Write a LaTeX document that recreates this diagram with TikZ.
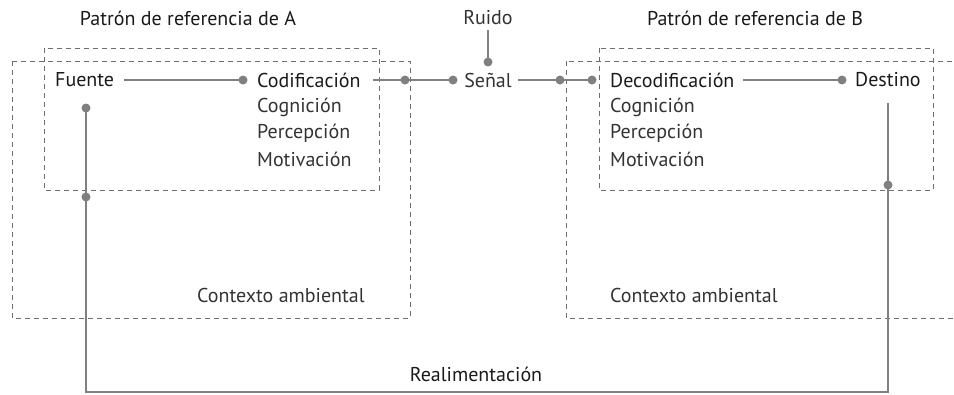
\documentclass[tikz,border=0pt]{standalone}
\usepackage{fontspec}
\setmainfont{PT Sans}
\definecolor{ln}{HTML}{808080}
\definecolor{bx}{HTML}{6E6E6E}
\definecolor{tx}{HTML}{1A1A1A}
\definecolor{tx2}{HTML}{333333}
\begin{document}
\begin{tikzpicture}[x=1pt,y=-1pt,
  lbl/.style={inner sep=0pt,text=tx,font=\fontsize{20}{22}\selectfont},
  sub/.style={inner sep=0pt,text=tx2,font=\fontsize{20}{22}\selectfont},
  conn/.style={draw=ln,line width=2pt},
  dot/.style={circle,fill=ln,inner sep=0pt,minimum size=9pt},
  dbox/.style={draw=bx,line width=0.9pt,dash pattern=on 5pt off 4pt}]
\useasboundingbox (0,0) rectangle (954,394);
% boxes
\draw[dbox] (12,61) rectangle (410,318);
\draw[dbox] (44,48) rectangle (379,190);
\draw[dbox] (566,61) rectangle (970,318);
\draw[dbox] (599,48) rectangle (933,190);
% texts
\node[lbl] (titA) at (188,18) {Patrón de referencia de A};
\node[lbl] (titB) at (755,18) {Patrón de referencia de B};
\node[sub] (ruido) at (488,18) {Ruido};
\node[lbl,anchor=west] (fuente) at (55,80) {Fuente};
\node[lbl,anchor=west] (codif) at (257,80) {Codificación};
\node[sub] (senal) at (488,80) {Señal};
\node[lbl,anchor=west] (decod) at (610,80) {Decodificación};
\node[lbl,anchor=west] (destino) at (855,80) {Destino};
\node[sub,anchor=west] (cogA) at (257,107) {Cognición};
\node[sub,anchor=west] (perA) at (257,133) {Percepción};
\node[sub,anchor=west] (motA) at (257,159) {Motivación};
\node[sub,anchor=west] (cogB) at (610,107) {Cognición};
\node[sub,anchor=west] (perB) at (610,133) {Percepción};
\node[sub,anchor=west] (motB) at (610,159) {Motivación};
\node[sub,anchor=west] (ctxA) at (197,295) {Contexto ambiental};
\node[sub,anchor=west] (ctxB) at (610,295) {Contexto ambiental};
\node[lbl] (realim) at (476,374) {Realimentación};
% coordinates
\coordinate (d1) at (243,80);
\coordinate (s1) at (373,80);
\coordinate (d2) at (405,80);
\coordinate (d3) at (453,80);
\coordinate (s2) at (518,80);
\coordinate (d4) at (560,80);
\coordinate (d5) at (592,80);
\coordinate (s3) at (743,80);
\coordinate (d6) at (842,80);
\coordinate (r0) at (488,30);
\coordinate (d7) at (488,62);
\coordinate (f1) at (86,108);
\coordinate (f2) at (86,197);
\coordinate (fb) at (86,392);
\coordinate (gb) at (888,392);
\coordinate (g1) at (888,103);
\coordinate (g2) at (888,185);
% connectors
\draw[conn] ([xshift=10pt]fuente.east) -- (d1);
\draw[conn] (s1) -- (d3);
\draw[conn] (s2) -- (d5);
\draw[conn] (s3) -- (d6);
\draw[conn] (r0) -- (d7);
\draw[conn] (f1) -- (fb) -- (gb) -- (g1);
\foreach \p in {d1,d2,d3,d4,d5,d6,d7,f1,f2,g2} \node[dot] at (\p) {};
\end{tikzpicture}
\end{document}
